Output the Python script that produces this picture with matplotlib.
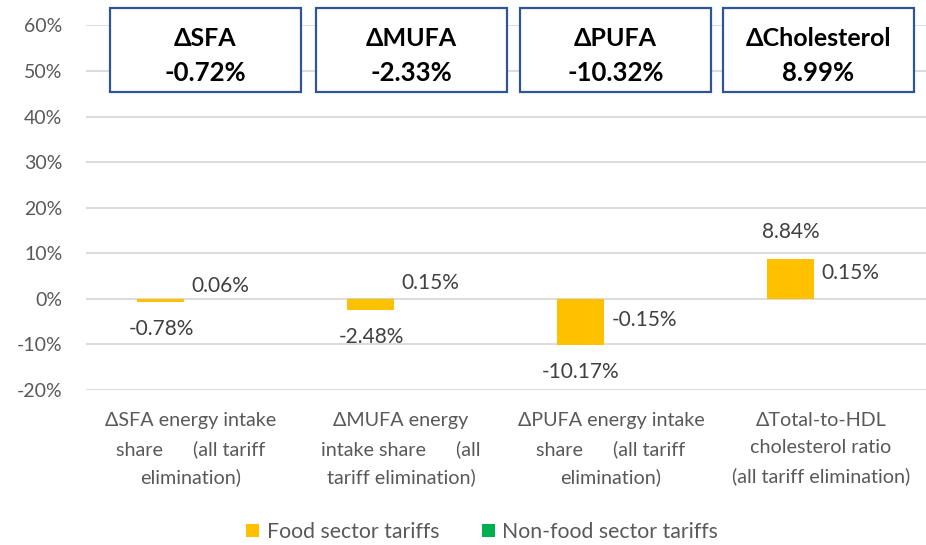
import matplotlib
matplotlib.use("Agg")
import matplotlib.pyplot as plt
from matplotlib.patches import Rectangle, Patch
import numpy as np

plt.rcParams['font.family'] = ['Lato', 'DejaVu Sans']

# ---- data ----
categories = [
    "ΔSFA energy intake\nshare      (all tariff\nelimination)",
    "ΔMUFA energy\nintake share      (all\ntariff elimination)",
    "ΔPUFA energy intake\nshare      (all tariff\nelimination)",
    "ΔTotal-to-HDL\ncholesterol ratio\n(all tariff elimination)",
]
box_titles = ["ΔSFA", "ΔMUFA", "ΔPUFA", "ΔCholesterol"]
food = [-0.78, -2.48, -10.17, 8.84]
nonfood = [0.06, 0.15, -0.15, 0.15]
series_names = ["Food sector tariffs", "Non-food sector tariffs"]
yticks = [-20, -10, 0, 10, 20, 30, 40, 50, 60]

# ---- style ----
FOOD_C = "#FFC000"
NONFOOD_C = "#00B050"
TXT = "#595959"
LBL = "#404040"
GRID = "#D9D9D9"
BOX_C = "#2F5597"

W, H = 926, 545
fig = plt.figure(figsize=(W / 100, H / 100), dpi=100)
ax = fig.add_axes([86 / W, 1 - 390 / H, (926 - 86) / W, (390 - 25.4) / H])

x = np.arange(len(categories))
bw = 0.224
off = -0.143
food_a = np.array(food)
nf_a = np.array(nonfood)

# non-food bars are tiny; drawn behind the food bars and the grid as in the original
ax.bar(x + off, nf_a, width=bw, color=NONFOOD_C, zorder=1, label=series_names[1])
ax.bar(x + off, food_a, width=bw, color=FOOD_C, zorder=3, label=series_names[0])

ax.set_xlim(-0.5, len(categories) - 0.5)
ax.set_ylim(-20, 60)
ax.set_yticks(yticks)
ax.set_yticklabels([f"{v}%" for v in yticks])
ax.set_axisbelow('line')
ax.yaxis.grid(True, color=GRID, linewidth=1.3)
for s in ax.spines.values():
    s.set_visible(False)
ax.tick_params(axis='y', length=0, pad=17, labelsize=14, labelcolor=TXT)
ax.set_xticks(x)
ax.set_xticklabels(categories, fontsize=14.2, color=TXT)
for lbl in ax.get_xticklabels():
    lbl.set_linespacing(1.72)
ax.tick_params(axis='x', length=0, pad=16)

# food labels beyond the bar end
for xi, v in zip(x, food):
    dy = 19 if v > 0 else -19
    ax.annotate(f"{v:.2f}%", (xi + off, v), xytext=(0, dy), textcoords='offset points',
                ha='center', va='center', fontsize=15, color=LBL)

# non-food labels to the right of the bar
nf_dy_pt = [9.0, 11.5, -15.0, 18.5]
for xi, v, dy in zip(x, nonfood, nf_dy_pt):
    ax.annotate(f"{v:.2f}%", (xi + off + bw / 2, 0), xytext=(5, dy), textcoords='offset points',
                ha='left', va='center', fontsize=15, color=LBL)

# summary boxes
box_x = [110, 316, 520, 723]
for bx, t, f, n in zip(box_x, box_titles, food, nonfood):
    fig.patches.append(Rectangle((bx / W, 1 - 92 / H), 191 / W, 84 / H,
                                 transform=fig.transFigure, fill=True, facecolor='white',
                                 edgecolor=BOX_C, linewidth=1.6, zorder=5))
    cx = (bx + 95.5) / W
    fig.text(cx, 1 - 38 / H, t, ha='center', va='center', fontsize=18, fontweight='bold',
             color='black', zorder=6)
    fig.text(cx, 1 - 73 / H, f"{f + n:.2f}%", ha='center', va='center', fontsize=18.5,
             fontweight='bold', color='black', zorder=6)

handles = [Patch(facecolor=FOOD_C), Patch(facecolor=NONFOOD_C)]
fig.legend(handles, series_names, loc='center', bbox_to_anchor=(482 / W, 1 - 532 / H),
           ncol=2, frameon=False, fontsize=15.3, handlelength=0.62, handleheight=0.62,
           handletextpad=0.35, columnspacing=2.0, labelcolor=TXT)

fig.savefig("out.png", dpi=100)
